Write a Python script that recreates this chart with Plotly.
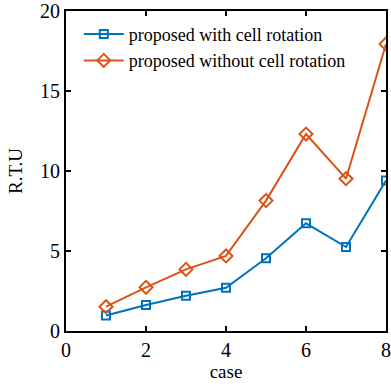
import plotly.graph_objects as go

cases = [1, 2, 3, 4, 5, 6, 7, 8]
with_rotation = [0.97, 1.63, 2.2, 2.7, 4.55, 6.73, 5.25, 9.4]
without_rotation = [1.52, 2.73, 3.85, 4.69, 8.15, 12.31, 9.52, 17.94]

x_ticks = [0, 2, 4, 6, 8]
y_ticks = [0, 5, 10, 15, 20]

BLUE = "#0072BD"
ORANGE = "#D95319"
FONT = "Liberation Serif"

fig = go.Figure()
fig.add_trace(go.Scatter(
    x=cases, y=with_rotation, mode="lines+markers",
    name="proposed with cell rotation",
    line=dict(color=BLUE, width=2),
    marker=dict(symbol="square-open", size=8, color=BLUE, line=dict(width=2)),
))
fig.add_trace(go.Scatter(
    x=cases, y=without_rotation, mode="lines+markers",
    name="proposed without cell rotation",
    line=dict(color=ORANGE, width=2),
    marker=dict(symbol="diamond-open", size=10, color=ORANGE, line=dict(width=2)),
))

axis_common = dict(
    showline=True, linecolor="black", linewidth=2, mirror="ticks",
    ticks="inside", ticklen=5, tickwidth=2, tickcolor="black",
    showgrid=False, zeroline=False, automargin=False,
    tickfont=dict(family=FONT, size=20, color="black"),
)

fig.update_xaxes(range=[0, 8], tickvals=x_ticks,
                 title=dict(text="case", font=dict(family=FONT, size=19, color="black"), standoff=4),
                 **axis_common)
fig.update_yaxes(range=[0, 20], tickvals=y_ticks,
                 title=dict(text="R.T.U", font=dict(family=FONT, size=19, color="black"), standoff=12),
                 **axis_common)

fig.update_layout(
    width=391, height=387,
    margin=dict(l=66, r=5, t=11, b=56),
    paper_bgcolor="white", plot_bgcolor="white",
    font=dict(family=FONT, color="black"),
    legend=dict(x=0.04, y=0.985, xanchor="left", yanchor="top",
                bgcolor="rgba(0,0,0,0)", font=dict(family=FONT, size=18),
                itemwidth=40, tracegroupgap=0),
)

fig.write_html("out.html")
